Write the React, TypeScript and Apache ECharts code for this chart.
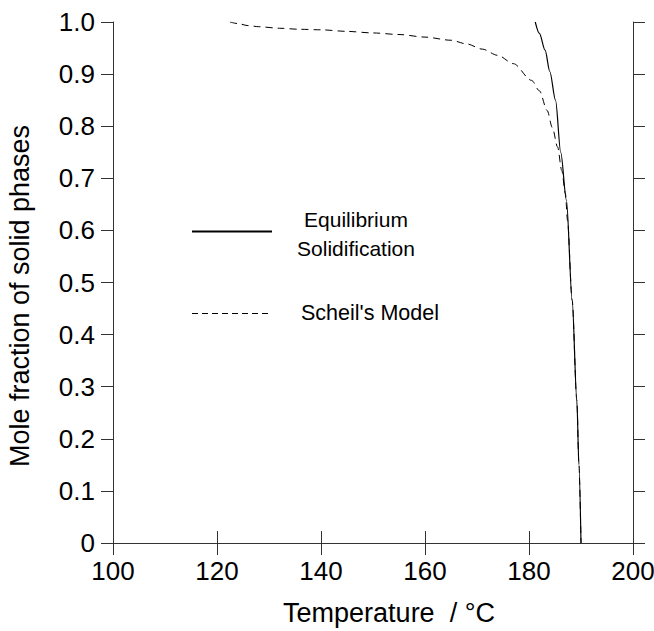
import React, { useEffect, useRef } from "react";
import * as echarts from "echarts";

const eqT = [181.2, 182.0, 183.1, 184.0, 185.1, 186.1, 187.2, 188.3, 189.2, 189.6, 190.0];
const eqF = [1.0, 0.978, 0.946, 0.905, 0.85, 0.75, 0.658, 0.466, 0.274, 0.15, 0.0];

const schT = [122.5, 124, 126, 128, 132, 136, 140, 145, 150, 155, 160, 165, 168, 171, 174, 177, 180.5, 182, 183.5, 184.5, 185.5, 186.3, 187.0, 187.4, 188.3, 189.2, 189.6, 190.0];
const schF = [1.0, 0.997, 0.993, 0.991, 0.988, 0.986, 0.985, 0.982, 0.979, 0.976, 0.971, 0.965, 0.958, 0.948, 0.936, 0.92, 0.888, 0.868, 0.83, 0.797, 0.76, 0.715, 0.671, 0.62, 0.466, 0.274, 0.15, 0.0];

const legendLabels = ["Equilibrium", "Solidification", "Scheil's Model"];
const xTitle = "Temperature  / °C";
const yTitle = "Mole fraction of solid phases";

const FONT = "Liberation Sans, Arial, Helvetica, sans-serif";
const AX = "#333";

export default function App() {
  const ref = useRef<HTMLDivElement>(null);
  useEffect(() => {
    if (!ref.current) return;
    const chart = echarts.init(ref.current, undefined, { renderer: "svg" });
    const axisCommon = {
      type: "value" as const,
      axisLine: { show: true, lineStyle: { color: AX, width: 1 } },
      axisTick: { show: true, inside: false, length: 12, lineStyle: { color: AX, width: 1 } },
      splitLine: { show: false },
    };
    chart.setOption({
      animation: false,
      backgroundColor: "#fff",
      grid: { left: 113, right: 21, top: 22, bottom: 88, containLabel: false, outerBoundsMode: "none" },
      xAxis: [
        {
          ...axisCommon,
          position: "bottom",
          min: 100,
          max: 200,
          interval: 20,
          axisLabel: { fontFamily: FONT, fontSize: 26, color: "#000", margin: 15 },
        },
        {
          ...axisCommon,
          position: "top",
          min: 100,
          max: 200,
          interval: 20,
          axisLabel: { show: false },
        },
      ],
      yAxis: [
        {
          ...axisCommon,
          position: "left",
          min: 0,
          max: 1,
          interval: 0.1,
          axisLabel: {
            fontFamily: FONT,
            fontSize: 26,
            color: "#000",
            margin: 18,
            formatter: (v: number) => (v === 0 ? "0" : v.toFixed(1)),
          },
        },
        {
          ...axisCommon,
          position: "right",
          min: 0,
          max: 1,
          interval: 0.1,
          axisLabel: { show: false },
        },
      ],
      series: [
        {
          name: "Equilibrium Solidification",
          type: "line",
          xAxisIndex: 0,
          yAxisIndex: 0,
          data: eqT.map((t, i) => [t, eqF[i]]),
          showSymbol: false,
          smooth: 0.3,
          smoothMonotone: "x",
          lineStyle: { color: "#000", width: 1.2 },
        },
        {
          name: "Scheil's Model",
          type: "line",
          xAxisIndex: 0,
          yAxisIndex: 0,
          data: schT.map((t, i) => [t, schF[i]]),
          showSymbol: false,
          smooth: 0.3,
          smoothMonotone: "x",
          lineStyle: { color: "#000", width: 1, type: [7, 5] },
        },
      ],
      graphic: [
        {
          type: "text",
          x: 389,
          y: 613,
          style: { text: xTitle, font: `27px ${FONT}`, fill: "#000", align: "center", verticalAlign: "middle" },
        },
        {
          type: "text",
          x: 20,
          y: 296,
          rotation: Math.PI / 2,
          style: { text: yTitle, font: `27px ${FONT}`, fill: "#000", align: "center", verticalAlign: "middle" },
        },
        {
          type: "line",
          shape: { x1: 192, y1: 231.5, x2: 272, y2: 231.5 },
          style: { stroke: "#000", lineWidth: 1.8 },
        },
        {
          type: "line",
          shape: { x1: 192, y1: 313.5, x2: 272, y2: 313.5 },
          style: { stroke: "#000", lineWidth: 1, lineDash: [6, 4] },
        },
        {
          type: "text",
          x: 356,
          y: 219,
          style: { text: legendLabels[0], font: `21px ${FONT}`, fill: "#000", align: "center", verticalAlign: "middle" },
        },
        {
          type: "text",
          x: 356,
          y: 248,
          style: { text: legendLabels[1], font: `21px ${FONT}`, fill: "#000", align: "center", verticalAlign: "middle" },
        },
        {
          type: "text",
          x: 301,
          y: 313,
          style: { text: legendLabels[2], font: `21.5px ${FONT}`, fill: "#000", align: "left", verticalAlign: "middle" },
        },
      ],
    });
    return () => chart.dispose();
  }, []);
  return (
    <div
      ref={ref}
      style={{ position: "fixed", left: 0, top: 0, width: 654, height: 631, background: "#fff" }}
    />
  );
}
